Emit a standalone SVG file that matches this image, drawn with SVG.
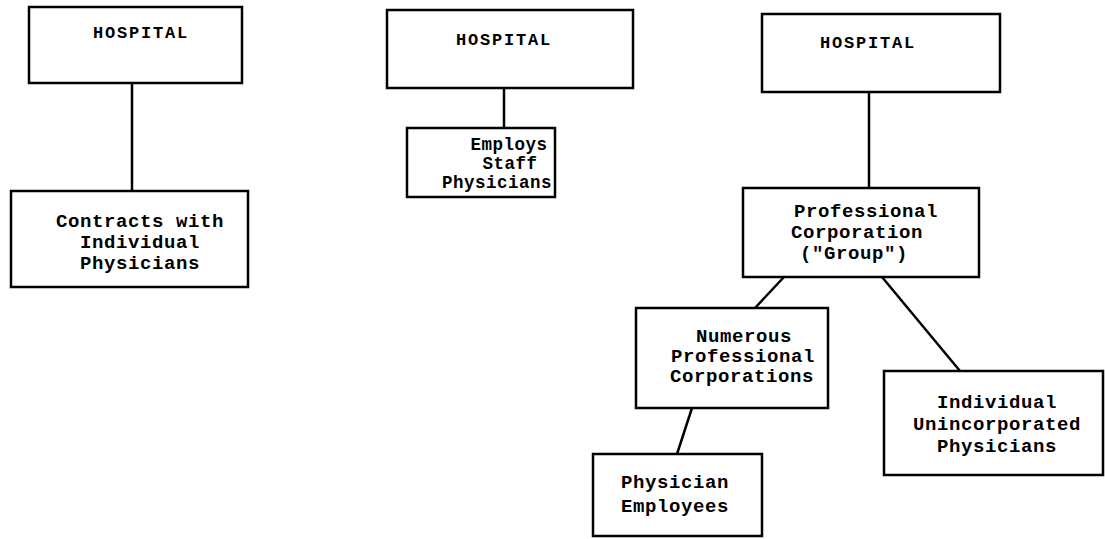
<svg xmlns="http://www.w3.org/2000/svg" width="1105" height="539" viewBox="0 0 1105 539">
<style>
.box{fill:#fff;stroke:#000;stroke-width:2.5}
.ln{stroke:#000;stroke-width:2.5;fill:none}
.t{font-family:"Liberation Mono","DejaVu Sans Mono",monospace;font-weight:bold;font-size:19px;letter-spacing:0.6px;text-anchor:middle;fill:#000;dominant-baseline:central}
.s{font-size:17.5px;letter-spacing:0.5px}
.h{font-size:17px;letter-spacing:1.8px}
</style>
<rect width="1105" height="539" fill="#fff"/>
<g id="connectors">
<line class="ln" x1="132" y1="83" x2="132" y2="192"/>
<line class="ln" x1="504" y1="87" x2="504" y2="128"/>
<line class="ln" x1="869" y1="91" x2="869" y2="188"/>
<line class="ln" x1="784" y1="277" x2="755" y2="308"/>
<line class="ln" x1="882" y1="277" x2="960" y2="371"/>
<line class="ln" x1="692" y1="408" x2="677" y2="454"/>
</g>
<g id="hospital1">
<rect class="box" x="29" y="7" width="213" height="76"/>
<text class="t h" x="141" y="33">HOSPITAL</text>
</g>
<g id="contracts">
<rect class="box" x="11" y="191" width="237" height="96"/>
<text class="t" x="140" y="222">Contracts with</text>
<text class="t" x="140" y="243">Individual</text>
<text class="t" x="140" y="264">Physicians</text>
</g>
<g id="hospital2">
<rect class="box" x="387" y="10" width="246" height="78"/>
<text class="t h" x="504" y="40">HOSPITAL</text>
</g>
<g id="employs">
<rect class="box" x="407" y="128" width="148" height="69"/>
<text class="t s" x="509" y="145">Employs</text>
<text class="t s" x="510" y="164">Staff</text>
<text class="t s" x="497" y="183">Physicians</text>
</g>
<g id="hospital3">
<rect class="box" x="762" y="14" width="238" height="78"/>
<text class="t h" x="868" y="43">HOSPITAL</text>
</g>
<g id="group">
<rect class="box" x="743" y="188" width="236" height="89"/>
<text class="t" x="866" y="212">Professional</text>
<text class="t" x="857" y="233">Corporation</text>
<text class="t" x="854" y="254">("Group")</text>
</g>
<g id="numerous">
<rect class="box" x="636" y="308" width="192" height="100"/>
<text class="t" x="744" y="337">Numerous</text>
<text class="t" x="743" y="357">Professional</text>
<text class="t" x="742" y="377">Corporations</text>
</g>
<g id="employees">
<rect class="box" x="593" y="454" width="169" height="82"/>
<text class="t" x="675" y="483">Physician</text>
<text class="t" x="675" y="507">Employees</text>
</g>
<g id="individual">
<rect class="box" x="884" y="371" width="219" height="104"/>
<text class="t" x="997" y="403">Individual</text>
<text class="t" x="997" y="425">Unincorporated</text>
<text class="t" x="997" y="447">Physicians</text>
</g>
</svg>
